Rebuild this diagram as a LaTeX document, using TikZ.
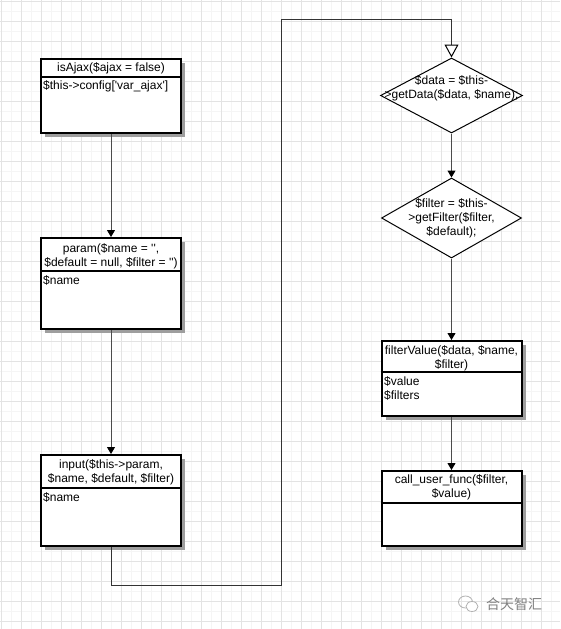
\documentclass[tikz,border=0pt]{standalone}
\usepackage{fontspec}
\setmainfont{Liberation Sans}
\newfontfamily\cjk{Noto Sans CJK SC}
\usetikzlibrary{arrows.meta,shapes.geometric,shadows}
\begin{document}
\begin{tikzpicture}[x=1pt,y=-1pt,
  box/.style={rectangle,draw=black,line width=2pt,fill=white,minimum width=140pt,inner sep=0pt,
    drop shadow={shadow xshift=4pt,shadow yshift=-4pt,fill=black!38,opacity=1}},
  dia/.style={diamond,draw=black,line width=1pt,fill=white,inner sep=0pt},
  divider/.style={line width=2pt,draw=black},
  hdr/.style={font=\fontsize{12}{14}\selectfont,align=center,inner sep=0pt},
  body/.style={font=\fontsize{12}{14}\selectfont,align=left,anchor=west,inner sep=0pt},
  conn/.style={draw=black!70,line width=1pt,-{Triangle[width=8pt,length=7pt,color=black]}},
  loopconn/.style={draw=black!80,line width=1pt,-{Triangle[open,width=14pt,length=13pt,line width=1pt,fill=white,color=black]}},
  minorgrid/.style={draw=black!4,line width=0.6pt},
  majorgrid/.style={draw=black!11,line width=0.6pt},
]
\useasboundingbox (0,0) rectangle (560,629);
\fill[white] (0,0) rectangle (560,629);
% grid
\foreach \i in {11,31,...,551} \draw[minorgrid] (\i,0) -- (\i,629);
\foreach \j in {11,31,...,621} \draw[minorgrid] (0,\j) -- (560,\j);
\foreach \i in {1,21,...,561} \draw[majorgrid] (\i,0) -- (\i,629);
\foreach \j in {1,21,...,621} \draw[majorgrid] (0,\j) -- (560,\j);

% boxes
\node[box,minimum height=74pt] (b1) at (111,96) {};
\node[box,minimum height=91pt] (b2) at (111,283.5) {};
\node[box,minimum height=91pt] (b3) at (111,500.5) {};
\node[box,minimum height=75pt] (b4) at (451.5,378.5) {};
\node[box,minimum height=75pt] (b5) at (451.5,508.5) {};

\draw[divider] (b1.west |- 0,77) -- (b1.east |- 0,77);
\draw[divider] (b2.west |- 0,271) -- (b2.east |- 0,271);
\draw[divider] (b3.west |- 0,488) -- (b3.east |- 0,488);
\draw[divider] (b4.west |- 0,372) -- (b4.east |- 0,372);
\draw[divider] (b5.west |- 0,503) -- (b5.east |- 0,503);

% diamonds
\node[dia,minimum width=142pt,minimum height=75pt] (d1) at (451.5,95.5) {};
\node[dia,minimum width=140pt,minimum height=80pt] (d2) at (451.5,218) {};

% texts
\node[hdr] (t1) at (111,68) {isAjax(\$ajax = false)};
\node[body] (s1) at (43,86) {\$this->config[\textquotesingle var\_ajax\textquotesingle]};
\node[hdr] (t2) at (111,256) {param(\$name = \textquotesingle\textquotesingle,\\\$default = null, \$filter = \textquotesingle\textquotesingle)};
\node[body] (s2) at (43,280) {\$name};
\node[hdr] (t3) at (111,472) {input(\$this->param,\\\$name, \$default, \$filter)};
\node[body] (s3) at (43,497) {\$name};
\node[hdr] (td1) at (451.5,88.5) {\$data = \$this-\\>getData(\$data, \$name);};
\node[hdr] (td2) at (451.5,218) {\$filter = \$this-\\>getFilter(\$filter,\\\$default);};
\node[hdr] (t4) at (451.5,358) {filterValue(\$data, \$name,\\\$filter)};
\node[body] (s4) at (384,388.7) {\$value\\\$filters};
\node[hdr] (t5) at (451.5,487) {call\_user\_func(\$filter,\\\$value)};

% connectors
\coordinate (c1) at (111,585.5);
\coordinate (c2) at (281.5,585.5);
\coordinate (c3) at (281.5,19);
\coordinate (c4) at (451.5,19);
\draw[conn] (b1.south) -- (b2.north);
\draw[conn] (b2.south) -- (b3.north);
\draw[loopconn] (b3.south) -- (c1) -- (c2) -- (c3) -- (c4) -- (d1.north);
\draw[conn] (d1.south) -- (d2.north);
\draw[conn] (d2.south) -- (b4.north);
\draw[conn] (b4.south) -- (b5.north);

% watermark
\draw[black!30,line width=0.8pt] (465.5,602) ellipse (7 and 6);
\draw[black!30,line width=0.8pt,fill=white] (472,606.5) ellipse (6 and 5);
\node[font=\cjk\fontsize{14}{14}\selectfont,text=black!50,anchor=west,inner sep=0pt] (wm) at (486,604) {合天智汇};
\end{tikzpicture}
\end{document}
